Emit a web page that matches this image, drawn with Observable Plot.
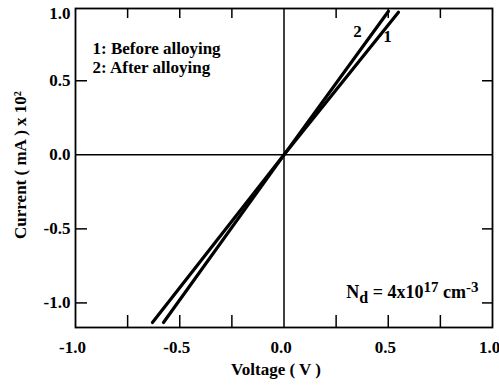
<!DOCTYPE html>
<html>
<head>
<meta charset="utf-8">
<script src="https://cdn.jsdelivr.net/npm/d3@7"></script>
<script src="https://cdn.jsdelivr.net/npm/@observablehq/plot@0.6"></script>
<style>
  body { margin: 0; background: #fff; }
  #chart svg { display: block; }
</style>
</head>
<body>
<div id="chart"></div>
<script>
// Curve 1: before alloying ; Curve 2: after alloying (straight I–V lines)
const voltage1 = [-0.631, 0, 0.549];
const current1 = [-1.132, 0, 0.963];
const voltage2 = [-0.578, 0, 0.501];
const current2 = [-1.132, 0, 0.969];

const xTickLabels = [-1.0, -0.5, 0.0, 0.5, 1.0];
const xMinorTicks = [-0.75, -0.5, -0.25, 0.25, 0.5, 0.75];
const yTickLabels = [-1.0, -0.5, 0.0, 0.5];
const yTopLabel = [1.0];
const yMinorTicks = [-1.0, -0.5, 0.5];

const legendLines = ["1: Before alloying", "2: After alloying"];
const curveNames = ["1", "2"];
const xTitle = "Voltage ( V )";
const yTitle = "Current ( mA ) x 10²";
const ndText = "Nd = 4x1017 cm-3";

const series1 = voltage1.map((v, i) => ({V: v, I: current1[i]}));
const series2 = voltage2.map((v, i) => ({V: v, I: current2[i]}));

const W = 499, H = 389;
const mL = 75, mR = 7, mT = 8, mB = 62;
const frameW = W - mL - mR, frameH = H - mT - mB;
const fmt = d => d.toFixed(1);

const plot = Plot.plot({
  width: W,
  height: H,
  marginLeft: mL,
  marginRight: mR,
  marginTop: mT,
  marginBottom: mB,
  style: {fontFamily: "'Liberation Serif', 'Times New Roman', serif", fontWeight: "bold", fontSize: "17px", color: "#000", background: "#fff"},
  x: {domain: [-1, 1]},
  y: {domain: [-1.166, 0.988]},
  marks: [
    Plot.ruleX([0], {stroke: "#000", strokeWidth: 1.5}),
    Plot.ruleY([0], {stroke: "#000", strokeWidth: 1.5}),
    // inward ticks
    Plot.tickX(xMinorTicks, {x: d => d, insetTop: frameH - 12, stroke: "#000", strokeWidth: 1.5}),
    Plot.tickX(xMinorTicks, {x: d => d, insetBottom: frameH - 10, stroke: "#000", strokeWidth: 1.5}),
    Plot.tickY(yMinorTicks, {y: d => d, insetRight: frameW - 12, stroke: "#000", strokeWidth: 1.5}),
    Plot.tickY(yMinorTicks, {y: d => d, insetLeft: frameW - 10, stroke: "#000", strokeWidth: 1.5}),
    Plot.axisX({ticks: xTickLabels, tickSize: 0, tickPadding: 13, tickFormat: fmt, dx: -3, label: null}),
    Plot.axisY({ticks: yTickLabels, tickSize: 0, tickPadding: 5, tickFormat: fmt, label: null}),
    Plot.axisY({ticks: yTopLabel, tickSize: 0, tickPadding: 5, tickFormat: fmt, dy: 7, label: null}),
    Plot.line(series1, {x: "V", y: "I", stroke: "#000", strokeWidth: 3.2}),
    Plot.line(series2, {x: "V", y: "I", stroke: "#000", strokeWidth: 3.2}),
    Plot.frame({stroke: "#000", strokeWidth: 1.8}),
    Plot.text([legendLines[0]], {frameAnchor: "top-left", textAnchor: "start", lineAnchor: "bottom", dx: 17, dy: 45}),
    Plot.text([legendLines[1]], {frameAnchor: "top-left", textAnchor: "start", lineAnchor: "bottom", dx: 17, dy: 64}),
    Plot.text([curveNames[1]], {x: 0.352, y: 0.834}),
    Plot.text([curveNames[0]], {x: 0.496, y: 0.80}),
    Plot.text([ndText], {frameAnchor: "bottom-right", textAnchor: "end", lineAnchor: "bottom", dx: -14, dy: -30, fontSize: 18, className: "nd"}),
    Plot.text([xTitle], {frameAnchor: "bottom", textAnchor: "middle", dx: -8, dy: 47}),
    Plot.text([yTitle], {frameAnchor: "left", textAnchor: "middle", rotate: -90, dx: -55, dy: -3})
  ]
});

document.getElementById("chart").appendChild(plot);

// rich formatting of N_d annotation (subscript / superscripts)
const nd = plot.querySelector("g.nd text");
if (nd) {
  nd.textContent = "";
  const t = d3.select(nd);
  t.append("tspan").text("N");
  t.append("tspan").attr("dy", 5).attr("font-size", 16).text("d");
  t.append("tspan").attr("dy", -5).text(" = 4x10");
  t.append("tspan").attr("dy", -6).attr("font-size", 15).text("17");
  t.append("tspan").attr("dy", 6).text(" cm");
  t.append("tspan").attr("dy", -6).attr("font-size", 15).text("-3");
}
</script>
</body>
</html>
